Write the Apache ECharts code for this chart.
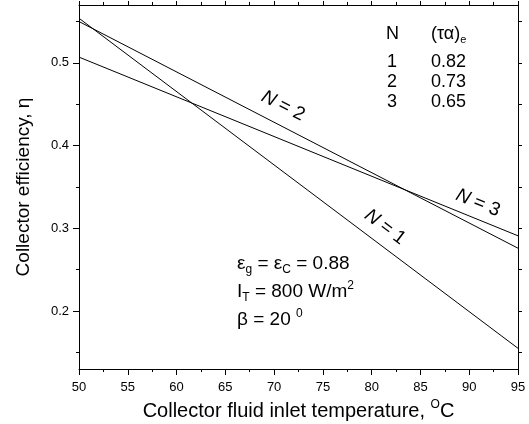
<!DOCTYPE html>
<html>
<head>
<meta charset="utf-8">
<script src="https://cdn.jsdelivr.net/npm/echarts@6/dist/echarts.min.js"></script>
<style>
html,body{margin:0;padding:0;background:#fff;}
#main{width:529px;height:424px;}
</style>
</head>
<body>
<div id="main"></div>
<script>
// inlet temperatures (deg C) at the line ends
var temps = [50, 95];
// efficiency for each cover count N
var effN1 = [0.554, 0.155];
var effN2 = [0.550, 0.276];
var effN3 = [0.507, 0.291];
var yMajor = [0.2, 0.3, 0.4, 0.5];
var yMinor = [0.15, 0.2, 0.25, 0.3, 0.35, 0.4, 0.45, 0.5, 0.55];
var tableN = ['1', '2', '3'];
var tableTauAlpha = ['0.82', '0.73', '0.65'];

var font = 'Liberation Sans, Arial, sans-serif';
var chart = echarts.init(document.getElementById('main'));

function pairs(ys){
    var out = [];
    for(var i=0;i<temps.length;i++) out.push([temps[i], ys[i]]);
    return out;
}
function lineSeries(ys){
    return {
        type:'line', data:pairs(ys), symbol:'none', silent:true,
        lineStyle:{color:'#000', width:1}, xAxisIndex:0, yAxisIndex:0
    };
}

var axisLineStyle = {lineStyle:{color:'#000', width:1}};

var option = {
    animation:false,
    grid:{left:79, right:11, top:5, bottom:55, outerBoundsMode:'none', containLabel:false},
    xAxis:[{
        type:'value', min:50, max:95, interval:5,
        axisLine:axisLineStyle,
        axisTick:{length:6, lineStyle:{color:'#000'}},
        minorTick:{show:true, splitNumber:2, length:3, lineStyle:{color:'#000'}},
        splitLine:{show:false},
        axisLabel:{color:'#000', fontFamily:font, fontSize:13, margin:12},
        name:'{t|Collector fluid inlet temperature, }{s|O}{t|C}',
        nameLocation:'middle', nameGap:28,
        nameTextStyle:{rich:{
            t:{fontFamily:font, fontSize:20, color:'#000'},
            s:{fontFamily:font, fontSize:12, color:'#000', padding:[0,0,14,0]}
        }}
    },{
        type:'value', min:50, max:95, interval:5, position:'top',
        axisLine:axisLineStyle,
        axisTick:{length:4, lineStyle:{color:'#000'}},
        minorTick:{show:true, splitNumber:2, length:3, lineStyle:{color:'#000'}},
        splitLine:{show:false}, axisLabel:{show:false}
    }],
    yAxis:[{
        type:'value', min:0.13, max:0.57,
        axisLine:axisLineStyle,
        axisTick:{length:6, customValues:yMajor, lineStyle:{color:'#000'}},
        splitLine:{show:false},
        axisLabel:{color:'#000', fontFamily:font, fontSize:13, margin:10, customValues:yMajor,
            formatter:function(v){return v.toFixed(1);}},
        name:'Collector efficiency, η', nameLocation:'middle', nameGap:46,
        nameTextStyle:{fontFamily:font, fontSize:19, color:'#000'}
    },{
        type:'value', min:0.13, max:0.57, position:'left',
        axisLine:{show:false},
        axisTick:{length:3, customValues:yMinor, lineStyle:{color:'#000'}},
        splitLine:{show:false}, axisLabel:{show:false}
    },{
        type:'value', min:0.13, max:0.57, position:'right',
        axisLine:axisLineStyle,
        axisTick:{length:4, customValues:yMinor, lineStyle:{color:'#000'}},
        splitLine:{show:false}, axisLabel:{show:false}
    }],
    series:[lineSeries(effN1), lineSeries(effN2), lineSeries(effN3)]
};
chart.setOption(option);

// annotations
var g = [];
function nLabel(x, y, deg, n){
    g.push({
        type:'text', x:x, y:y, rotation:-deg*Math.PI/180,
        style:{
            text:'{i|N}{r| = '+n+'}', align:'center', verticalAlign:'middle',
            rich:{
                i:{fontStyle:'italic', fontFamily:font, fontSize:19, color:'#000'},
                r:{fontFamily:font, fontSize:19, color:'#000'}
            }
        }
    });
}
nLabel(283, 106, 27, '2');
nLabel(385, 227, 37, '1');
nLabel(478, 203, 22, '3');

var txt = {fill:'#000', font:'18px '+font, verticalAlign:'middle'};
g.push({type:'text', x:386, y:34, style:Object.assign({text:'N'}, txt)});
g.push({type:'text', x:431, y:34, style:{
    text:'{m|(τα)}{s|e}', verticalAlign:'middle',
    rich:{
        m:{fontSize:18, fontFamily:font, color:'#000'},
        s:{fontSize:11, fontFamily:font, color:'#000', padding:[12,0,0,0]}
    }
}});
for(var i=0;i<tableN.length;i++){
    g.push({type:'text', x:387, y:62+i*20, style:Object.assign({text:tableN[i]}, txt)});
    g.push({type:'text', x:431, y:62+i*20, style:Object.assign({text:tableTauAlpha[i]}, txt)});
}
var rich = {
    b:{fontFamily:font, fontSize:19, color:'#000'},
    sub:{fontFamily:font, fontSize:12, color:'#000', padding:[12,0,0,0]},
    sup:{fontFamily:font, fontSize:12, color:'#000', padding:[0,0,12,0]}
};
g.push({type:'text', x:237, y:264, style:{text:'{b|ε}{sub|g}{b| = ε}{sub|C}{b| = 0.88}', rich:rich, verticalAlign:'middle'}});
g.push({type:'text', x:237, y:292, style:{text:'{b|I}{sub|T}{b| = 800 W/m}{sup|2}', rich:rich, verticalAlign:'middle'}});
g.push({type:'text', x:237, y:320, style:{text:'{b|β = 20 }{sup|0}', rich:rich, verticalAlign:'middle'}});
chart.setOption({graphic:g});
</script>
</body>
</html>
